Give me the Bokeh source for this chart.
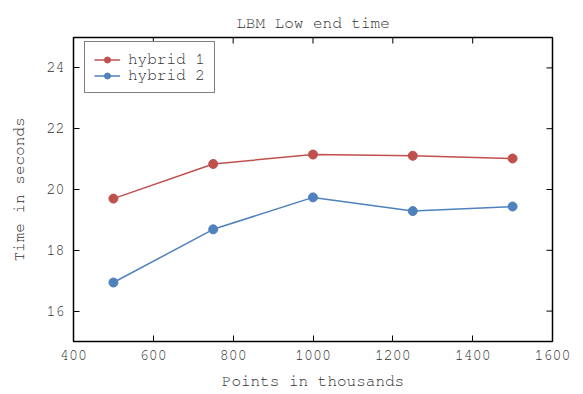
import math
from bokeh.plotting import figure
from bokeh.models import Range1d, Legend, LegendItem, FixedTicker
from bokeh.embed import file_html
from bokeh.resources import INLINE

points = [500, 750, 1000, 1250, 1500]
hybrid1 = [19.70, 20.84, 21.15, 21.11, 21.02]
hybrid2 = [16.94, 18.69, 19.74, 19.29, 19.44]
x_ticks = [400, 600, 800, 1000, 1200, 1400, 1600]
y_ticks = [16, 18, 20, 22, 24]
x_min, x_max = 400, 1600
y_min, y_max = 15, 25

FONT = "'Nimbus Mono PS', 'FreeMono', 'Courier New', 'Liberation Mono', monospace"
RED = "#c0504d"
BLUE = "#4f81bd"
TEXT = "#333333"

p = figure(width=583, height=394, output_backend="svg", toolbar_location=None,
           x_range=Range1d(x_min, x_max), y_range=Range1d(y_min, y_max),
           title="LBM Low end time",
           min_border_left=73, min_border_right=31, min_border_top=37, min_border_bottom=53)
p.title.align = "center"
p.title.text_font = FONT
p.title.text_font_size = "16px"
p.title.text_font_style = "normal"
p.title.text_color = TEXT
p.title.vertical_align = "top"
p.title.standoff = 10
p.grid.visible = False
p.outline_line_color = "black"
p.outline_line_width = 1.5
p.background_fill_color = "white"
p.border_fill_color = "white"

for ax, ticks in ((p.xaxis[0], x_ticks), (p.yaxis[0], y_ticks)):
    ax.ticker = FixedTicker(ticks=ticks)
    ax.major_tick_in = 6
    ax.major_tick_out = 0
    ax.minor_tick_line_color = None
    ax.major_tick_line_color = "black"
    ax.axis_line_color = None
    ax.major_label_text_font = FONT
    ax.major_label_text_font_size = "15px"
    ax.major_label_text_color = TEXT
    ax.axis_label_text_font = FONT
    ax.axis_label_text_font_size = "16px"
    ax.axis_label_text_font_style = "normal"
    ax.axis_label_text_color = TEXT
    ax.major_label_standoff = 9

p.xaxis.axis_label = "Points in thousands"
p.yaxis.axis_label = "Time in seconds"
p.xaxis.axis_label_standoff = 10
p.yaxis.axis_label_standoff = 16

# mirrored inward ticks on the top and right edges
p.ray(x=x_ticks[1:-1], y=[y_max] * len(x_ticks[1:-1]), length=6, length_units="screen",
      angle=-math.pi / 2, line_color="black", line_width=1)
p.ray(x=[x_max] * len(y_ticks), y=y_ticks, length=6, length_units="screen",
      angle=math.pi, line_color="black", line_width=1)

l1 = p.line(points, hybrid1, line_color=RED, line_width=1.5)
c1 = p.scatter(points, hybrid1, size=9, fill_color=RED, line_color=RED)
l2 = p.line(points, hybrid2, line_color=BLUE, line_width=1.5)
c2 = p.scatter(points, hybrid2, size=9, fill_color=BLUE, line_color=BLUE)

legend = Legend(items=[LegendItem(label="hybrid 1", renderers=[l1, c1]),
                       LegendItem(label="hybrid 2", renderers=[l2, c2])],
                location=(11, 248))
legend.label_text_font = FONT
legend.label_text_font_size = "16px"
legend.label_text_color = TEXT
legend.label_text_line_height = 0.9
legend.border_line_color = "black"
legend.border_line_width = 1
legend.margin = 0
legend.padding = 9
legend.spacing = 0
legend.label_height = 15
legend.glyph_height = 15
legend.glyph_width = 26
legend.label_standoff = 8
p.add_layout(legend)

open("out.html", "w").write(file_html(p, INLINE))
